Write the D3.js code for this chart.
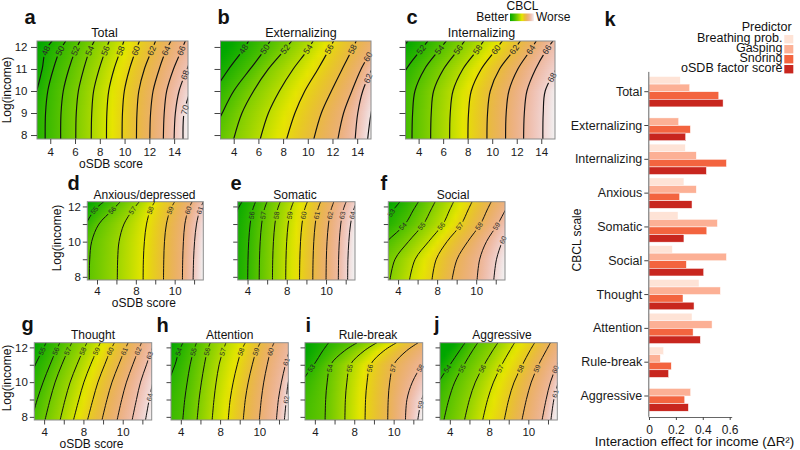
<!DOCTYPE html>
<html>
<head>
<meta charset="utf-8">
<script src="https://cdn.jsdelivr.net/npm/d3@7/dist/d3.min.js"></script>
<style>
  html, body { margin: 0; padding: 0; background: #ffffff; }
  svg { display: block; }
  text { font-family: "Liberation Sans", Arial, Helvetica, sans-serif; }
</style>
</head>
<body>
<svg id="chart" width="800" height="450" viewBox="0 0 800 450"></svg>
<script>
// ====================== DATA ======================
// Log(income) levels at which every contour crossing (oSDB score) was read off the picture
const incomeRows = [7.82, 9, 10, 11, 11.8, 12.27];

// a – Total
const totalLevels = [48, 50, 52, 54, 56, 58, 60, 62, 64, 66, 68, 70];
const totalCross = [
  [2.2, 2.3, 2.9, 3.35, 3.6, 4.15],
  [3.59, 3.62, 3.8, 4.25, 4.75, 5.25],
  [4.84, 4.87, 5.05, 5.5, 6.0, 6.4],
  [6.06, 6.1, 6.27, 6.7, 7.15, 7.56],
  [7.31, 7.35, 7.5, 7.95, 8.43, 8.76],
  [8.54, 8.57, 8.72, 9.15, 9.65, 9.95],
  [9.8, 9.83, 9.98, 10.4, 10.88, 11.2],
  [10.96, 11.0, 11.15, 11.6, 12.16, 12.5],
  [12.04, 12.1, 12.3, 12.8, 13.32, 13.74],
  [13.13, 13.2, 13.4, 13.95, 14.55, 14.9],
  [14.0, 14.1, 14.4, 15.05, 15.6, 16.0],
  [14.72, 14.8, 15.3, 15.9, 16.5, 17.0]
];
const totalRange = [46.4, 71.0];

// b – Externalizing
const extLevels = [48, 50, 52, 54, 56, 58, 60, 62, 64];
const extCross = [
  [-0.55, 1.06, 2.39, 3.6, 4.67, 5.21],
  [2.13, 3.07, 4.0, 5.34, 6.41, 6.95],
  [4.0, 4.67, 5.61, 6.81, 8.02, 8.69],
  [6.15, 6.81, 7.7, 8.82, 9.9, 10.43],
  [8.29, 8.96, 9.76, 10.83, 11.64, 12.09],
  [10.49, 11.1, 11.91, 12.79, 13.52, 13.92],
  [12.44, 12.9, 13.57, 14.32, 15.13, 15.53],
  [13.84, 14.05, 14.45, 15.2, 15.93, 16.33],
  [14.85, 15.13, 15.53, 16.06, 16.6, 17.0]
];
const extRange = [46.3, 64.5];

// c – Internalizing
const intLevels = [50, 52, 54, 56, 58, 60, 62, 64, 66, 68];
const intCross = [
  [-1.9, -1.35, -0.55, 1.37, 2.45, 3.13],
  [1.91, 1.96, 2.18, 3.0, 4.08, 4.76],
  [3.46, 3.51, 3.7, 4.49, 5.58, 6.26],
  [4.98, 5.03, 5.22, 6.04, 7.12, 7.75],
  [6.53, 6.58, 6.8, 7.61, 8.7, 9.3],
  [8.02, 8.07, 8.29, 9.11, 10.19, 10.82],
  [9.57, 9.62, 9.84, 10.6, 11.69, 12.29],
  [11.09, 11.14, 11.36, 12.09, 13.05, 13.59],
  [12.56, 12.62, 12.83, 13.54, 14.35, 14.95],
  [14.13, 14.16, 14.32, 15.22, 16.03, 16.57]
];
const intRange = [49.7, 69.3];

// d – Anxious/depressed
const anxLevels = [55, 56, 57, 58, 59, 60, 61];
const anxCross = [
  [-0.5, 0.2, 1.3, 2.8, 3.75, 4.7],
  [3.21, 3.25, 3.45, 4.2, 5.6, 6.4],
  [6.09, 6.13, 6.27, 6.78, 7.68, 8.36],
  [8.75, 8.78, 8.88, 9.1, 9.5, 9.95],
  [10.85, 10.88, 10.95, 11.15, 11.55, 12.0],
  [12.8, 12.83, 12.9, 13.05, 13.4, 13.8],
  [13.9, 13.95, 14.05, 14.25, 14.6, 14.95]
];
const anxRange = [54.1, 61.9];

// e – Somatic
const somLevels = [55, 56, 57, 58, 59, 60, 61, 62, 63, 64];
const somCross = [
  [2.3, 2.35, 2.45, 2.65, 2.98, 3.45],
  [4.02, 4.05, 4.12, 4.27, 4.52, 4.82],
  [5.19, 5.22, 5.29, 5.44, 5.69, 5.99],
  [6.54, 6.57, 6.64, 6.79, 7.04, 7.34],
  [7.89, 7.92, 7.99, 8.14, 8.39, 8.69],
  [9.3, 9.33, 9.4, 9.55, 9.8, 10.1],
  [10.65, 10.68, 10.75, 10.9, 11.15, 11.45],
  [12.0, 12.03, 12.1, 12.25, 12.5, 12.8],
  [13.25, 13.28, 13.35, 13.5, 13.75, 14.05],
  [14.2, 14.23, 14.32, 14.5, 14.8, 15.15]
];
const somRange = [54.67, 64.6];

// f – Social
const socLevels = [53, 54, 55, 56, 57, 58, 59, 60];
const socCross = [
  [-3.0, -1.63, 0.09, 2.49, 3.51, 4.2],
  [0.09, 1.12, 2.83, 4.72, 5.57, 6.09],
  [3.17, 3.69, 5.06, 6.6, 7.36, 7.8],
  [5.17, 5.75, 7.12, 8.6, 9.28, 9.69],
  [7.47, 7.91, 9.01, 10.48, 11.17, 11.58],
  [9.52, 10.04, 11.13, 12.44, 13.12, 13.54],
  [12.09, 12.36, 13.05, 14.21, 15.0, 15.52],
  [13.8, 14.08, 14.67, 15.52, 16.21, 16.72]
];
const socRange = [52.4, 60.6];

// g – Thought
const thoLevels = [55, 56, 57, 58, 59, 60, 61, 62, 63, 64];
const thoCross = [
  [1.2, 1.8, 2.4, 3.1, 3.8, 4.2],
  [2.7, 3.3, 3.9, 4.6, 5.2, 5.6],
  [4.09, 4.61, 5.12, 5.8, 6.41, 6.82],
  [5.63, 6.14, 6.65, 7.34, 7.95, 8.36],
  [6.99, 7.54, 8.05, 8.73, 9.34, 9.72],
  [8.42, 8.97, 9.48, 10.16, 10.74, 11.15],
  [9.89, 10.4, 10.91, 11.59, 12.17, 12.55],
  [11.43, 11.9, 12.38, 13.02, 13.57, 13.91],
  [12.96, 13.4, 13.81, 14.42, 14.9, 15.24],
  [14.32, 14.7, 15.07, 15.58, 16.03, 16.36]
];
const thoRange = [54.15, 64.46];

// h – Attention
const attLevels = [54, 55, 56, 57, 58, 59, 60, 61, 62];
const attCross = [
  [1.06, 1.88, 2.69, 3.41, 3.82, 4.23],
  [4.2, 4.4, 4.65, 4.95, 5.3, 5.6],
  [5.66, 5.86, 6.1, 6.4, 6.7, 7.0],
  [7.19, 7.38, 7.6, 7.9, 8.3, 8.6],
  [8.83, 9.03, 9.34, 9.75, 10.16, 10.57],
  [10.36, 10.57, 10.87, 11.28, 11.69, 12.1],
  [12.0, 12.2, 12.45, 12.8, 13.15, 13.5],
  [13.74, 13.94, 14.25, 14.66, 15.07, 15.47],
  [14.55, 14.75, 14.95, 15.47, 15.98, 16.39]
];
const attRange = [53.1, 62.5];

// i – Rule-break
const rulLevels = [53, 54, 55, 56, 57, 58, 59];
const rulCross = [
  [0.5, 1.5, 2.6, 3.9, 4.8, 5.4],
  [5.04, 5.1, 5.25, 5.6, 7.0, 8.3],
  [7.05, 7.1, 7.25, 7.6, 9.0, 10.3],
  [9.1, 9.15, 9.3, 9.65, 11.0, 12.3],
  [11.4, 11.45, 11.6, 12.0, 13.3, 14.5],
  [13.2, 13.35, 13.9, 14.9, 16.0, 17.0],
  [14.45, 14.85, 15.6, 16.7, 17.8, 18.6]
];
const rulRange = [52.2, 59.3];

// j – Aggressive
const aggLevels = [54, 55, 56, 57, 58, 59, 60, 61];
const aggCross = [
  [0.96, 1.81, 2.83, 4.02, 4.98, 5.56],
  [3.4, 3.9, 4.5, 5.45, 6.3, 6.85],
  [5.5, 6.0, 6.6, 7.5, 8.35, 8.9],
  [7.35, 7.85, 8.45, 9.3, 10.1, 10.6],
  [9.55, 10.0, 10.55, 11.4, 12.15, 12.65],
  [11.35, 11.8, 12.3, 13.05, 13.8, 14.25],
  [13.4, 13.81, 14.25, 14.93, 15.61, 16.12],
  [14.3, 14.6, 15.05, 15.6, 16.1, 16.6]
];
const aggRange = [53.1, 61.5];

// tick labels
const incomeTicks = [8, 9, 10, 11, 12];
const incomeTickLabelsSmall = ["8", "", "10", "", "12"];
const osdbTicks = [4, 6, 8, 10, 12, 14];
const osdbTickLabelsLarge = ["4", "6", "8", "10", "12", "14"];
const osdbTickLabelsSmall = ["4", "", "8", "", "10", ""];

// k – bar chart
const kCategories = ["Total", "Externalizing", "Internalizing", "Anxious", "Somatic", "Social", "Thought", "Attention", "Rule-break", "Aggressive"];
const predictors = ["Breathing prob.", "Gasping", "Snoring", "oSDB factor score"];
const breathingProb = [0.233, null, 0.27, 0.26, 0.216, 0.174, 0.372, 0.32, 0.109, null];
const gasping       = [0.303, 0.221, 0.352, 0.352, 0.509, 0.576, 0.531, 0.469, 0.084, 0.31];
const snoring       = [0.519, 0.308, 0.576, 0.228, 0.43, 0.278, 0.253, 0.328, 0.166, 0.266];
const osdbFactor    = [0.551, 0.273, 0.427, 0.32, 0.26, 0.407, 0.335, 0.382, 0.146, 0.293];
const kTicks = [0, 0.2, 0.4, 0.6];

// ====================== STYLE / LAYOUT ======================
const predictorColors = ["#fee3d6", "#fcb095", "#f3643f", "#c8261e"];
const yDomain = [7.82, 12.27];

const rowStyle = {
  1: { y0: 41, y1: 139, xDomain: [2.93, 15.12], titleY: 36.7, titleFs: 12.5, tickFs: 11.5,
       ySize: 6, yPad: 3.5, xSize: 5, xPad: 4.2, xLabels: osdbTickLabelsLarge, yLabels: incomeTicks.map(String),
       labFs: 8.6, lw: 1.15, labEdge: 0.28, labML: 0.24, labMR: 0.24,
       xTitleY: 168, yTitleX: 11, yTitleY: 90 },
  2: { y0: 201.7, y1: 280, xDomain: [3, 14.95], titleY: 198.5, titleFs: 12, tickFs: 11.5,
       ySize: 4.5, yPad: 2, xSize: 4.5, xPad: 2.2, xLabels: osdbTickLabelsSmall, yLabels: incomeTickLabelsSmall,
       labFs: 7, lw: 1.0, labEdge: 0.3, labML: 0.3, labMR: 0.2,
       xTitleY: 306.5, yTitleX: 60.5, yTitleY: 238 },
  3: { y0: 342.7, y1: 420, xDomain: [3, 14.95], titleY: 338.5, titleFs: 12, tickFs: 11.5,
       ySize: 4.5, yPad: 2, xSize: 4.5, xPad: 3.3, xLabels: osdbTickLabelsSmall, yLabels: incomeTickLabelsSmall,
       labFs: 7, lw: 1.0, labEdge: 0.3, labML: 0.3, labMR: 0.2,
       xTitleY: 448, yTitleX: 10.8, yTitleY: 378 }
};

const panels = [
  { id: "a", row: 1, title: "Total", levels: totalLevels, cross: totalCross, range: totalRange, x0: 37, x1: 188, titleX: 104.5, letterX: 24.5, letterY: 24, labelY: 11.83, yLab: true, xTitle: true },
  { id: "b", row: 1, title: "Externalizing", levels: extLevels, cross: extCross, range: extRange, x0: 220.5, x1: 371, titleX: 301, letterX: 217.5, letterY: 24, labelY: 11.9 },
  { id: "c", row: 1, title: "Internalizing", levels: intLevels, cross: intCross, range: intRange, x0: 405.5, x1: 555, titleX: 481.5, letterX: 406.5, letterY: 24, labelY: 11.88 },
  { id: "d", row: 2, title: "Anxious/depressed", levels: anxLevels, cross: anxCross, range: anxRange, x0: 87.3, x1: 203.3, titleX: 144.5, letterX: 67.5, letterY: 190, labelY: 11.78, yLab: true, xTitle: true },
  { id: "e", row: 2, title: "Somatic", levels: somLevels, cross: somCross, range: somRange, x0: 237.7, x1: 355, titleX: 295, letterX: 230.5, letterY: 190, labelY: 11.5 },
  { id: "f", row: 2, title: "Social", levels: socLevels, cross: socCross, range: socRange, x0: 388.3, x1: 505, titleX: 453, letterX: 380.5, letterY: 190, labelY: 10.88 },
  { id: "g", row: 3, title: "Thought", levels: thoLevels, cross: thoCross, range: thoRange, x0: 34.3, x1: 151.7, titleX: 93, letterX: 21.5, letterY: 330.5, labelY: 11.78, yLab: true, xTitle: true },
  { id: "h", row: 3, title: "Attention", levels: attLevels, cross: attCross, range: attRange, x0: 171, x1: 288.3, titleX: 229.7, letterX: 156.5, letterY: 332, labelY: 11.75 },
  { id: "i", row: 3, title: "Rule-break", levels: rulLevels, cross: rulCross, range: rulRange, x0: 305, x1: 422.7, titleX: 368, letterX: 305.5, letterY: 331.5, labelY: 10.8 },
  { id: "j", row: 3, title: "Aggressive", levels: aggLevels, cross: aggCross, range: aggRange, x0: 440, x1: 557.3, titleX: 502, letterX: 434, letterY: 331, labelY: 10.78 }
];

// ====================== HELPERS ======================
const svg = d3.select("#chart");
const defs = svg.append("defs");
let gradCount = 0;

// R terrain.colors palette as a continuous ramp (green -> yellow -> tan -> white)
function terrain(t) {
  t = Math.max(0, Math.min(1, t));
  let h, s, v;
  if (t < 0.5) { const u = t / 0.5; h = 120 - 60 * u; s = 1; v = 0.65 + 0.25 * u; }
  else { const u = (t - 0.5) / 0.5; h = 60 - 60 * u; s = 1 - u; v = 0.9 + 0.05 * u; }
  const c = v * s, hp = h / 60, xx = c * (1 - Math.abs((hp % 2) - 1)), m = v - c;
  let r = 0, g = 0, b = 0;
  if (hp < 1) { r = c; g = xx; } else { r = xx; g = c; }
  return d3.rgb((r + m) * 255, (g + m) * 255, (b + m) * 255).formatHex();
}

// position (oSDB) of a contour at a given income, along the read points
function xAtY(xs, yv) {
  const r = incomeRows, n = r.length;
  let i = 0;
  if (yv >= r[n - 1]) i = n - 2;
  else if (yv > r[0]) { while (i < n - 2 && yv > r[i + 1]) i++; }
  const t = (yv - r[i]) / (r[i + 1] - r[i]);
  return xs[i] + t * (xs[i + 1] - xs[i]);
}

// surface value along a row between contour crossings
function valueAt(cr, xv) {
  const n = cr.length;
  let i = 0;
  if (xv >= cr[n - 1].x) i = n - 2;
  else if (xv > cr[0].x) { while (i < n - 2 && xv > cr[i + 1].x) i++; }
  const a = cr[i], b = cr[i + 1], dx = b.x - a.x;
  if (Math.abs(dx) < 1e-6) return a.lev;
  return a.lev + (xv - a.x) * (b.lev - a.lev) / dx;
}

// ====================== CONTOUR PANELS ======================
function drawPanel(P) {
  const S = rowStyle[P.row];
  const x = d3.scaleLinear().domain(S.xDomain).range([P.x0, P.x1]);
  const y = d3.scaleLinear().domain(yDomain).range([S.y1, S.y0]);
  const x0 = P.x0, x1 = P.x1, y0 = S.y0, y1 = S.y1, w = x1 - x0, h = y1 - y0;
  const g = svg.append("g").attr("class", "panel-" + P.id);

  const cid = "clip_" + P.id;
  defs.append("clipPath").attr("id", cid).append("rect")
    .attr("x", x0).attr("y", y0).attr("width", w).attr("height", h);

  // ---- colour surface (row-wise gradients between contour crossings)
  const zs = d3.scaleLinear().domain(P.range).range([0, 1]).clamp(true);
  const bg = g.append("g").attr("clip-path", `url(#${cid})`);
  const step = 2, nStops = 26;
  for (let py = y0; py < y1; py += step) {
    const yv = y.invert(Math.min(py + step / 2, y1));
    const cr = P.levels.map((lev, i) => ({ lev, x: xAtY(P.cross[i], yv) })).sort((a, b) => a.x - b.x);
    const gid = "gr_" + P.id + "_" + (gradCount++);
    const gr = defs.append("linearGradient").attr("id", gid).attr("gradientUnits", "userSpaceOnUse")
      .attr("x1", x0).attr("y1", 0).attr("x2", x1).attr("y2", 0);
    for (let k = 0; k <= nStops; k++) {
      const px = x0 + w * k / nStops;
      const v = valueAt(cr, x.invert(px));
      gr.append("stop").attr("offset", k / nStops).attr("stop-color", terrain(zs(v)));
    }
    bg.append("rect").attr("x", x0).attr("y", py).attr("width", w)
      .attr("height", Math.min(step + 0.7, y1 - py)).attr("fill", `url(#${gid})`);
  }

  // ---- contour lines (masked where labels sit)
  const mid = "mask_" + P.id;
  const mask = defs.append("mask").attr("id", mid).attr("maskUnits", "userSpaceOnUse")
    .attr("x", x0 - 3).attr("y", y0 - 3).attr("width", w + 6).attr("height", h + 6);
  mask.append("rect").attr("x", x0 - 3).attr("y", y0 - 3).attr("width", w + 6).attr("height", h + 6).attr("fill", "white");

  const lineGen = d3.line().x(d => x(d[0])).y(d => y(d[1])).curve(d3.curveCatmullRom.alpha(0.5));
  const lg = g.append("g").attr("clip-path", `url(#${cid})`).append("g").attr("mask", `url(#${mid})`);
  P.levels.forEach((lev, i) => {
    lg.append("path")
      .attr("d", lineGen(P.cross[i].map((xv, j) => [xv, incomeRows[j]])))
      .attr("fill", "none").attr("stroke", "#111").attr("stroke-width", S.lw);
  });

  // ---- contour labels
  const lab = g.append("g");
  const xl = S.xDomain[0] + S.labML, xr = S.xDomain[1] - S.labMR;
  const yTop = yDomain[1] - S.labEdge, yBot = yDomain[0] + S.labEdge;
  P.levels.forEach((lev, i) => {
    const xs = P.cross[i];
    let ly = P.labelY, lx = xAtY(xs, ly), ok = true;
    if (lx < xl) {
      ok = false;
      for (let yy = ly; yy <= yTop; yy += 0.01) if (xAtY(xs, yy) >= xl) { ly = yy; ok = true; break; }
    } else if (lx > xr) {
      ok = false;
      for (let yy = ly; yy >= yBot; yy -= 0.01) if (xAtY(xs, yy) <= xr) { ly = yy; ok = true; break; }
    }
    if (!ok) return;
    lx = xAtY(xs, ly);
    const ya = ly - 0.15, yb = ly + 0.15;
    const p1 = [x(xAtY(xs, ya)), y(ya)], p2 = [x(xAtY(xs, yb)), y(yb)];
    let ang = Math.atan2(p2[1] - p1[1], p2[0] - p1[0]) * 180 / Math.PI;
    if (ang < -90) ang += 180;
    if (ang > 90) ang -= 180;
    const tr = `translate(${x(lx)},${y(ly)}) rotate(${ang})`;
    const t = lab.append("text").attr("transform", tr).attr("text-anchor", "middle")
      .attr("dy", "0.35em").attr("font-size", S.labFs).attr("fill", "#2a2a2a").text(lev);
    const tw = t.node().getComputedTextLength();
    mask.append("rect").attr("transform", tr)
      .attr("x", -tw / 2 - 1.6).attr("y", -S.labFs * 0.55).attr("width", tw + 3.2).attr("height", S.labFs * 1.1)
      .attr("fill", "black");
  });

  // ---- frame
  g.append("rect").attr("x", x0).attr("y", y0).attr("width", w).attr("height", h)
    .attr("fill", "none").attr("stroke", "#8c8c8c").attr("stroke-width", 1);

  // ---- axes
  const yAxis = d3.axisLeft(y).tickValues(incomeTicks).tickSize(S.ySize).tickSizeOuter(0).tickPadding(S.yPad)
    .tickFormat((d, i) => P.yLab ? S.yLabels[i] : "");
  const ya = g.append("g").attr("transform", `translate(${x0},0)`).call(yAxis);
  const xAxis = d3.axisBottom(x).tickValues(osdbTicks).tickSize(S.xSize).tickSizeOuter(0).tickPadding(S.xPad)
    .tickFormat((d, i) => S.xLabels[i]);
  const xa = g.append("g").attr("transform", `translate(0,${y1})`).call(xAxis);
  [ya, xa].forEach(a => {
    a.select(".domain").remove();
    a.selectAll(".tick line").attr("stroke", "#444");
    a.selectAll(".tick text").attr("font-size", S.tickFs).attr("fill", "#1a1a1a")
      .attr("font-family", '"Liberation Sans", Arial, sans-serif');
  });

  // ---- titles
  g.append("text").attr("x", P.titleX).attr("y", S.titleY).attr("text-anchor", "middle")
    .attr("font-size", S.titleFs).attr("fill", "#111").text(P.title);
  g.append("text").attr("x", P.letterX).attr("y", P.letterY).attr("font-size", 20)
    .attr("font-weight", "bold").attr("fill", "#111").text(P.id);
  if (P.xTitle) {
    g.append("text").attr("x", (x0 + x1) / 2 - 1.5).attr("y", S.xTitleY).attr("text-anchor", "middle")
      .attr("font-size", 12).attr("fill", "#111").text("oSDB score");
  }
  if (P.yLab) {
    g.append("text").attr("transform", `translate(${S.yTitleX},${S.yTitleY}) rotate(-90)`)
      .attr("text-anchor", "middle").attr("font-size", 12).attr("fill", "#111").text("Log(income)");
  }
}

panels.forEach(drawPanel);

// ====================== CBCL COLOUR KEY ======================
const keyGrad = defs.append("linearGradient").attr("id", "cbclKey");
d3.range(0, 1.0001, 0.1).forEach(t => keyGrad.append("stop").attr("offset", t).attr("stop-color", terrain(t)));
svg.append("text").attr("x", 522.5).attr("y", 10.2).attr("text-anchor", "middle").attr("font-size", 12).attr("fill", "#111").text("CBCL");
svg.append("text").attr("x", 508.3).attr("y", 21).attr("text-anchor", "end").attr("font-size", 12).attr("fill", "#111").text("Better");
svg.append("rect").attr("x", 510).attr("y", 13.5).attr("width", 24).attr("height", 7.6).attr("fill", "url(#cbclKey)");
svg.append("text").attr("x", 536).attr("y", 21).attr("font-size", 12).attr("fill", "#111").text("Worse");

// ====================== PANEL k (bars) ======================
const kg = svg.append("g").attr("class", "panel-k");
const kY = d3.scaleBand().domain(kCategories).range([71.4, 416.3]).paddingInner(0.1).paddingOuter(0.15);
const kSub = d3.scaleBand().domain(predictors).range([0, kY.bandwidth()]);
const kX = d3.scaleLinear().domain([-0.005, 0.615]).range([648.3, 731.7]);
const kColor = d3.scaleOrdinal().domain(predictors).range(predictorColors);
const series = [breathingProb, gasping, snoring, osdbFactor];

predictors.forEach((pred, pi) => {
  const vals = series[pi];
  kg.append("g").selectAll("rect")
    .data(kCategories.map((c, ci) => ({ c, v: vals[ci] })).filter(d => d.v !== null))
    .join("rect")
    .attr("x", kX(0))
    .attr("y", d => kY(d.c) + kSub(pred))
    .attr("width", d => kX(d.v) - kX(0))
    .attr("height", kSub.bandwidth())
    .attr("fill", kColor(pred))
    .attr("stroke", "#ffffff").attr("stroke-width", 0.5);
});

const kyAxis = kg.append("g").attr("transform", "translate(648.3,0)")
  .call(d3.axisLeft(kY).tickSize(4).tickSizeOuter(0).tickPadding(2));
const kxAxis = kg.append("g").attr("transform", "translate(0,417)")
  .call(d3.axisBottom(kX).tickValues(kTicks).tickSize(3).tickSizeOuter(0).tickPadding(5)
    .tickFormat(d => d === 0 ? "0" : d3.format(".1f")(d)));
[kyAxis, kxAxis].forEach(a => {
  a.select(".domain").attr("stroke", "#666");
  a.selectAll(".tick line").attr("stroke", "#444");
  a.selectAll(".tick text").attr("font-size", 12.5).attr("fill", "#1a1a1a")
    .attr("font-family", '"Liberation Sans", Arial, sans-serif');
});
kxAxis.selectAll(".tick text").attr("font-size", 12);

kg.append("text").attr("x", 694.5).attr("y", 446).attr("text-anchor", "middle").attr("font-size", 13.3)
  .attr("fill", "#111").text("Interaction effect for income (ΔR²)");
kg.append("text").attr("transform", "translate(580.5,240) rotate(-90)").attr("text-anchor", "middle")
  .attr("font-size", 12).attr("fill", "#111").text("CBCL scale");
kg.append("text").attr("x", 604.5).attr("y", 26).attr("font-size", 20).attr("font-weight", "bold")
  .attr("fill", "#111").text("k");

// legend (rows are tightly stacked, as in the original)
kg.append("text").attr("x", 791.7).attr("y", 30.7).attr("text-anchor", "end").attr("font-size", 12.5)
  .attr("fill", "#111").text("Predictor");
predictors.forEach((pred, i) => {
  const by = 42.3 + i * 10;
  kg.append("rect").attr("x", 784.3).attr("y", by - 7.3).attr("width", 9).attr("height", 8.4).attr("fill", kColor(pred));
  kg.append("text").attr("x", 782.5).attr("y", by).attr("text-anchor", "end").attr("font-size", 12.5)
    .attr("fill", "#111").text(pred);
});
</script>
</body>
</html>
